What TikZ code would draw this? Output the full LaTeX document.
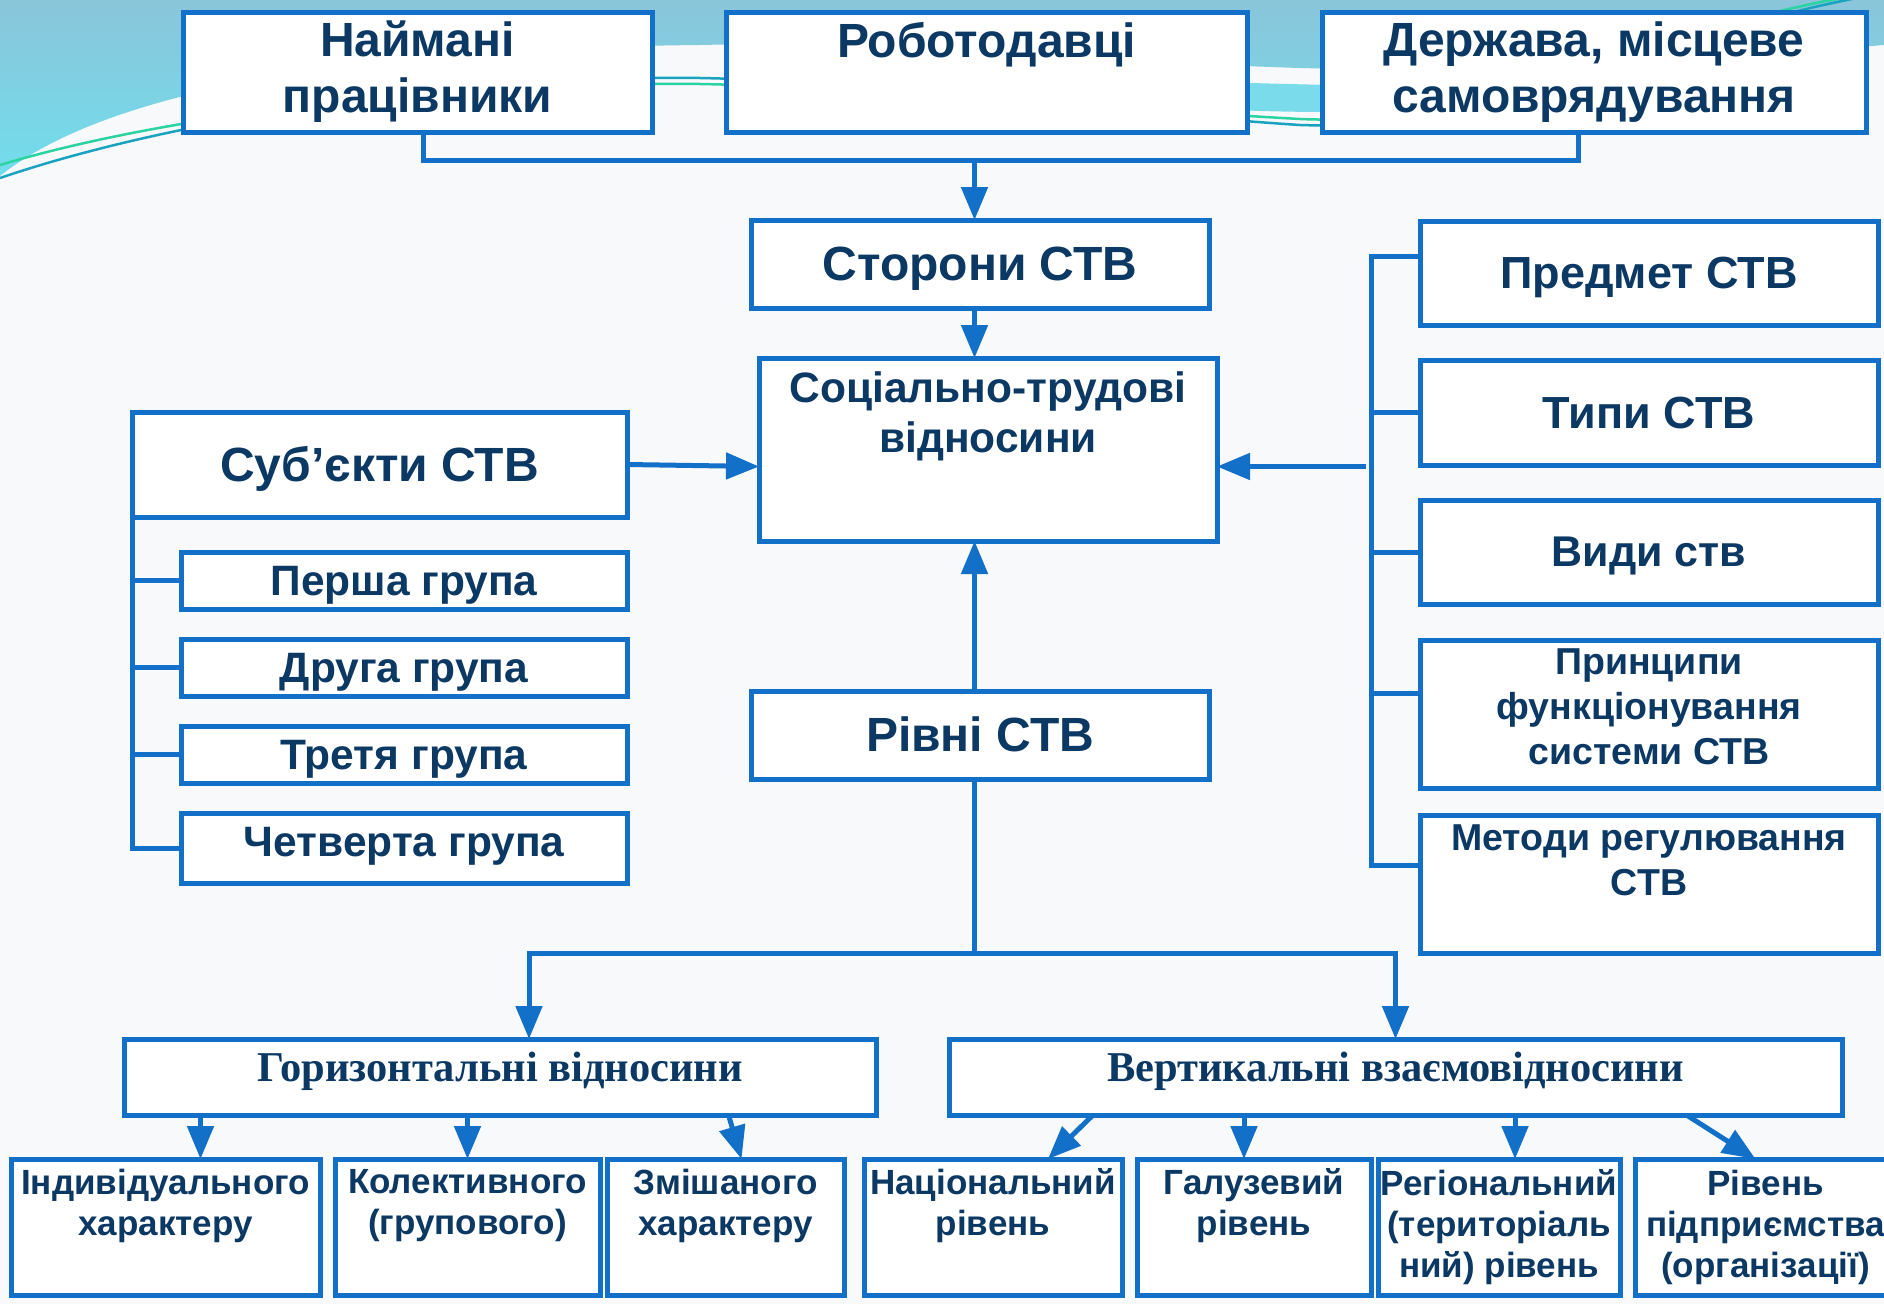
\documentclass[tikz,border=0pt]{standalone}
\usepackage{fontspec}
\setmainfont{Liberation Sans}
\newfontfamily\tms{Liberation Serif}
\usetikzlibrary{arrows.meta,calc}
\definecolor{bblue}{HTML}{1270C8}
\definecolor{navy}{HTML}{0C3864}
\definecolor{bgc}{HTML}{F8F9FA}
\definecolor{skyA}{HTML}{8AC5DA}
\definecolor{skyB}{HTML}{72DDEC}
\definecolor{cyanband}{HTML}{7ADBEA}
\definecolor{tealline}{HTML}{1AA3C0}
\definecolor{greenline}{HTML}{2CD3A2}
\newcommand\bx[6][]{\node[bbox,minimum width={(#5)-(#3)},minimum height={(#6)-(#4)},#1] (#2) at ({((#3)+(#5))/2},{((#4)+(#6))/2})}
\begin{document}
\begin{tikzpicture}[x=1pt,y=-1pt,
  bbox/.style={draw=bblue,line width=5pt,fill=white,inner sep=0pt,outer sep=0pt,text=navy,align=center},
  txt/.style={text=navy,inner sep=0pt,outer sep=0pt,align=center},
  ln/.style={draw=bblue,line width=5pt},
  arr/.style={ln,-{Triangle[length=33pt,width=26pt]}},
  ftop/.style={font=\bfseries\fontsize{48}{56}\selectfont},
  fmid/.style={font=\bfseries\fontsize{48}{56}\selectfont,text height=43.4pt,text depth=10.2pt},
  fsoc/.style={font=\bfseries\fontsize{42.5}{50}\selectfont},
  fgrp/.style={font=\bfseries\fontsize{42.5}{49}\selectfont,text height=38.5pt,text depth=9pt},
  fra/.style={font=\bfseries\fontsize{45}{50}\selectfont,text height=40.7pt,text depth=9.5pt},
  frv/.style={font=\bfseries\fontsize{43}{50}\selectfont,text height=38.9pt,text depth=9.1pt},
  frb/.style={font=\bfseries\fontsize{37.5}{45}\selectfont},
  fhd/.style={font=\tms\bfseries\fontsize{42.5}{48}\selectfont},
  fbot/.style={font=\bfseries\fontsize{35}{41}\selectfont}]
\useasboundingbox (0,0) rectangle (1884,1304);
% background
\fill[bgc] (0,0) rectangle (1884,1304);
\shade[top color=skyA,bottom color=skyB] (0,0) -- (1884,0) -- (1884,45)
  .. controls (1700,60) and (1450,72) .. (1300,68)
  .. controls (1100,62) and (900,40) .. (700,45)
  .. controls (400,48) and (120,80) .. (0,176) -- cycle;
\fill[cyanband] (850,58) .. controls (1050,78) and (1200,82) .. (1330,85)
  .. controls (1550,88) and (1750,70) .. (1860,50)
  .. controls (1700,95) and (1500,112) .. (1330,112)
  .. controls (1150,112) and (1000,92) .. (850,58) -- cycle;
\draw[tealline,line width=2.5pt] (0,178) .. controls (200,110) and (500,75) .. (700,78)
  .. controls (900,82) and (1100,112) .. (1300,125)
  .. controls (1500,132) and (1650,32) .. (1890,-8);
\draw[greenline,line width=2.5pt] (0,165) .. controls (200,105) and (500,82) .. (700,84)
  .. controls (900,88) and (1100,108) .. (1300,119)
  .. controls (1500,128) and (1660,22) .. (1880,-8);
% top row
\bx[ftop]{a}{183}{12}{652}{132}{Наймані\\працівники};
\bx{b}{726}{12}{1247}{132}{};
\node[txt,ftop,anchor=base] (btx) at (b.north |- 0,57) {Роботодавці};
\bx[ftop]{c}{1322}{12}{1866}{132}{Держава, місцеве\\самоврядування};
% centre column
\bx[fmid]{stor}{751}{220}{1209}{308}{Сторони СТВ};
\bx{soc}{759}{358}{1217}{541}{};
\node[txt,fsoc] (soctx) at (soc.center |- 0,416) {Соціально-трудові\\відносини};
\bx[fmid]{rivni}{751}{691}{1209}{779}{Рівні СТВ};
% left column
\bx[fmid]{sub}{132}{412}{627}{517}{Суб’єкти СТВ};
\bx[fgrp]{g1}{181}{552}{627}{609}{Перша група};
\bx[fgrp]{g2}{181}{639}{627}{696}{Друга група};
\bx[fgrp]{g3}{181}{726}{627}{783}{Третя група};
\bx{g4}{181}{813}{627}{883}{};
\node[txt,fgrp] (g4tx) at ([yshift=6pt]g4.center) {Четверта група};
% right column
\bx[fra]{p1}{1420}{221}{1878}{325}{Предмет СТВ};
\bx[fra]{p2}{1420}{360}{1878}{465}{Типи СТВ};
\bx[frv]{p3}{1420}{500}{1878}{604}{Види ств};
\bx{p4}{1420}{640}{1878}{788}{};
\node[txt,frb] (p4tx) at ([yshift=7pt]p4.center) {Принципи\\функціонування\\системи СТВ};
\bx{p5}{1420}{815}{1878}{953}{};
\node[txt,frb] (p5tx) at (p5.center |- 0,860) {Методи регулювання\\СТВ};
% level boxes
\bx{hor}{124}{1039}{876}{1115}{};
\node[txt,fhd,anchor=base] (hortx) at (hor.center |- 0,1081) {Горизонтальні відносини};
\bx{ver}{949}{1039}{1842}{1115}{};
\node[txt,fhd,anchor=base] (vertx) at (ver.center |- 0,1081) {Вертикальні взаємовідносини};
% bottom row
\bx{b1}{11}{1159}{320}{1295}{};
\bx{b2}{335}{1159}{600}{1295}{};
\bx{b3}{607}{1159}{844}{1295}{};
\bx{b4}{864}{1159}{1122}{1295}{};
\bx{b5}{1137}{1159}{1371}{1295}{};
\bx{b6}{1378}{1159}{1620}{1295}{};
\bx{b7}{1635}{1159}{1900}{1295}{};
\node[txt,fbot] (b1tx) at (b1.center |- 0,1206) {Індивідуального\\характеру};
\node[txt,fbot] (b2tx) at (b2.center |- 0,1206) {Колективного\\(групового)};
\node[txt,fbot] (b3tx) at (b3.center |- 0,1206) {Змішаного\\характеру};
\node[txt,fbot] (b4tx) at (b4.center |- 0,1206) {Національний\\рівень};
\node[txt,fbot] (b5tx) at (b5.center |- 0,1206) {Галузевий\\рівень};
\node[txt,fbot] (b6tx) at (b6.center |- 0,1227) {Регіональний\\(територіаль\\ний) рівень};
\node[txt,fbot] (b7tx) at ([xshift=-2pt]b7.center |- 0,1227) {Рівень\\підприємства\\(організації)};
% connectors: top
\coordinate (tj) at ($(a.south)+(5.5,28)$);
\draw[ln] ([xshift=5.5pt]a.south) -- (tj) -| ([xshift=-16pt]c.south);
\draw[arr] (tj -| stor.north) ++(-5.5,0) -- ([xshift=-5.5pt]stor.north);
\draw[arr] ([xshift=-5.5pt]stor.south) -- ([xshift=-5.5pt]stor.south |- soc.north);
% left
\draw[arr] (sub.east) -- ($(soc.west)+(0,17)$);
\draw[ln] (sub.south west) |- (g4.west);
\draw[ln] (g1.west) -- (g1.west -| sub.west);
\draw[ln] (g2.west) -- (g2.west -| sub.west);
\draw[ln] (g3.west) -- (g3.west -| sub.west);
% right
\coordinate (rt) at ($(p1.north west)+(-49,35)$);
\draw[ln] ($(p1.north west)+(0,35)$) -- (rt) |- ($(p5.north west)+(0,50)$);
\draw[ln] (p2.west) -- (p2.west -| rt);
\draw[ln] (p3.west) -- (p3.west -| rt);
\draw[ln] ($(p4.north west)+(0,53)$) -- ++(-49,0);
\coordinate (rj) at ($(soc.east)+(149,17)$);
\draw[arr] (rj) -- ($(soc.east)+(0,17)$);
% levels
\draw[arr] ([xshift=-5.5pt]rivni.north) -- ([xshift=-5.5pt]rivni.north |- soc.south);
\draw[ln] ([xshift=-5.5pt]rivni.south) -- ++(0,174) coordinate (bj);
\draw[arr] (bj) -| ([xshift=29pt]hor.north);
\draw[arr] (bj) -| (ver.north);
% bottom arrows
\draw[arr] ([xshift=35pt]b1.north |- hor.south) -- ([xshift=35pt]b1.north);
\draw[arr] (b2.north |- hor.south) -- (b2.north);
\draw[arr] ([xshift=3pt]b3.north |- hor.south) -- ([xshift=16pt]b3.north);
\draw[arr] ([xshift=100pt]b4.north |- ver.south) -- ([xshift=55pt]b4.north);
\draw[arr] ([xshift=-10pt]b5.north |- ver.south) -- ([xshift=-10pt]b5.north);
\draw[arr] ([xshift=16pt]b6.north |- ver.south) -- ([xshift=16pt]b6.north);
\draw[arr] ([xshift=-81pt]b7.north |- ver.south) -- ([xshift=-12pt]b7.north);
\end{tikzpicture}
\end{document}
